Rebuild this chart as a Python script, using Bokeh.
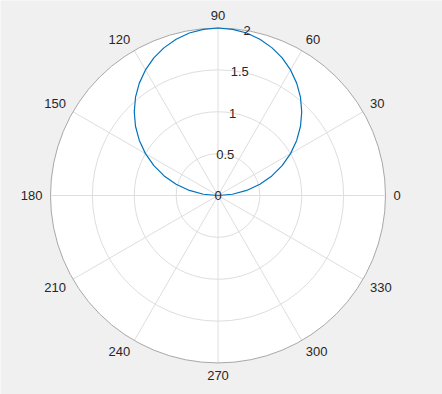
import numpy as np
from bokeh.plotting import figure
from bokeh.models import ColumnDataSource
from bokeh.embed import file_html
from bokeh.resources import INLINE
from bokeh.core.properties import value

# ---- data ----
theta_ticks = [0, 30, 60, 90, 120, 150, 180, 210, 240, 270, 300, 330]
theta_labels = ["0", "30", "60", "90", "120", "150", "180", "210", "240", "270", "300", "330"]
r_ticks = [0, 0.5, 1, 1.5, 2]
r_labels = ["0", "0.5", "1", "1.5", "2"]
r_max = 2
r_label_angle = 80

curve_theta = [0, 5, 10, 15, 20, 25, 30, 35, 40, 45, 50, 55, 60, 65, 70, 75, 80, 85, 90,
               95, 100, 105, 110, 115, 120, 125, 130, 135, 140, 145, 150, 155, 160, 165, 170, 175, 180]
curve_r = [0.00, 0.174, 0.347, 0.518, 0.684, 0.845, 1.00, 1.147, 1.286, 1.414, 1.532, 1.638, 1.732,
           1.813, 1.879, 1.932, 1.970, 1.992, 2.00,
           1.992, 1.970, 1.932, 1.879, 1.813, 1.732, 1.638, 1.532, 1.414, 1.286, 1.147, 1.00,
           0.845, 0.684, 0.518, 0.347, 0.174, 0.00]

# ---- layout ----
W, H = 442, 394
cx_px, cy_px = 217.5, 195.0
R_px = 167.5
u = R_px / r_max  # px per data unit

p = figure(width=W, height=H, output_backend="svg", toolbar_location=None,
           x_range=(-cx_px / u, (W - cx_px) / u), y_range=(-(H - cy_px) / u, cy_px / u),
           min_border=0, match_aspect=False)
p.axis.visible = False
p.grid.visible = False
p.outline_line_color = None
p.background_fill_color = "#f0f0f0"
p.border_fill_color = "#f0f0f0"

# white disk
p.circle(x=[0], y=[0], radius=r_max, fill_color="white", line_color=None)

# radial grid circles
inner = [r for r in r_ticks if 0 < r < r_max]
p.circle(x=[0] * len(inner), y=[0] * len(inner), radius=inner, fill_color=None,
         line_color="#dedede", line_width=1)

# spokes
th = np.radians(theta_ticks)
p.segment(x0=[0] * len(th), y0=[0] * len(th), x1=r_max * np.cos(th), y1=r_max * np.sin(th),
          line_color="#dedede", line_width=1)

# outer circle
p.circle(x=[0], y=[0], radius=r_max, fill_color=None, line_color="#a8a8a8", line_width=1)

# curve
ct = np.radians(curve_theta)
cr = np.array(curve_r)
p.line(cr * np.cos(ct), cr * np.sin(ct), line_color="#0072BD", line_width=1.2)

# theta labels
off = (R_px + 8) / u
for ang, lab in zip(theta_ticks, theta_labels):
    a = np.radians(ang)
    c, s = np.cos(a), np.sin(a)
    align = "left" if c > 0.1 else ("right" if c < -0.1 else "center")
    base = "bottom" if s > 0.1 else ("top" if s < -0.1 else "middle")
    p.text(x=[off * c], y=[off * s], text=[lab], text_align=align, text_baseline=base,
           text_font=value("Liberation Sans"), text_font_size="13px", text_color="#262626")

# r labels
ra = np.radians(r_label_angle)
rt = np.array(r_ticks)
p.text(x=rt * np.cos(ra), y=rt * np.sin(ra), text=r_labels, text_align="center",
       text_baseline="middle", text_font=value("Liberation Sans"), text_font_size="13px",
       text_color="#262626")

open("out.html", "w").write(file_html(p, INLINE))
